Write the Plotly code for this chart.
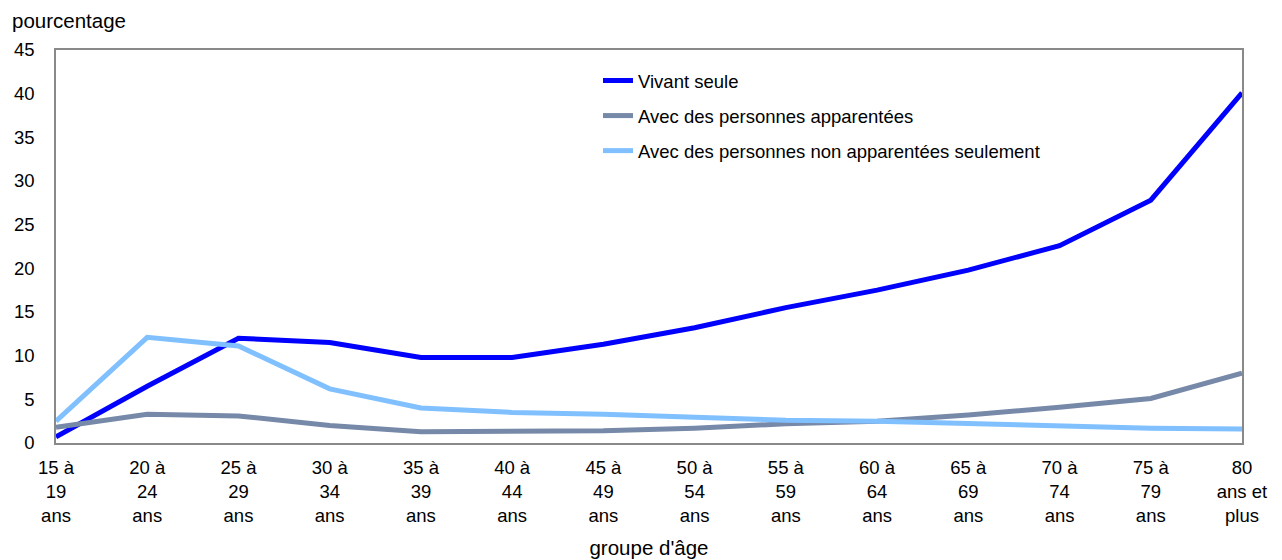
import plotly.graph_objects as go

age_groups = ["15 à 19 ans", "20 à 24 ans", "25 à 29 ans", "30 à 34 ans", "35 à 39 ans",
              "40 à 44 ans", "45 à 49 ans", "50 à 54 ans", "55 à 59 ans", "60 à 64 ans",
              "65 à 69 ans", "70 à 74 ans", "75 à 79 ans", "80 ans et plus"]
tick_labels = ["15 à<br>19<br>ans", "20 à<br>24<br>ans", "25 à<br>29<br>ans", "30 à<br>34<br>ans",
               "35 à<br>39<br>ans", "40 à<br>44<br>ans", "45 à<br>49<br>ans", "50 à<br>54<br>ans",
               "55 à<br>59<br>ans", "60 à<br>64<br>ans", "65 à<br>69<br>ans", "70 à<br>74<br>ans",
               "75 à<br>79<br>ans", "80<br>ans et<br>plus"]
y_ticks = [0, 5, 10, 15, 20, 25, 30, 35, 40, 45]

vivant_seule = [0.7, 6.5, 12.0, 11.5, 9.8, 9.8, 11.3, 13.2, 15.5, 17.5, 19.8, 22.6, 27.8, 40.1]
apparentees = [1.8, 3.3, 3.1, 2.0, 1.3, 1.3, 1.4, 1.7, 2.2, 2.5, 3.2, 4.1, 5.1, 8.0]
non_apparentees = [2.5, 12.1, 11.1, 6.2, 4.0, 3.5, 3.3, 3.0, 2.6, 2.5, 2.2, 2.0, 1.7, 1.6]

series_names = ["Vivant seule", "Avec des personnes apparentées",
                "Avec des personnes non apparentées seulement"]
series_colors = ["#0000FF", "#7789A8", "#80C0FF"]

FONT = "Liberation Sans, Arial, sans-serif"
W, H = 1282, 560
ML, MR, MT, MB = 56, 40, 50, 117
PW, PH = W - ML - MR, H - MT - MB

fig = go.Figure()
for i, (name, vals, col) in enumerate(zip(series_names,
                                          [vivant_seule, apparentees, non_apparentees],
                                          series_colors)):
    fig.add_trace(go.Scatter(x=age_groups, y=vals, mode="lines", name=name,
                             legendgroup=f"g{i}",
                             line=dict(color=col, width=5)))

fig.update_layout(
    width=W, height=H,
    margin=dict(l=ML, r=MR, t=MT, b=MB),
    paper_bgcolor="white", plot_bgcolor="white",
    font=dict(family=FONT, size=18.5, color="#000000"),
    showlegend=True,
    legend=dict(x=0.457, y=1 - 12 / PH, xanchor="left", yanchor="top",
                bgcolor="rgba(0,0,0,0)", font=dict(size=18.5),
                tracegroupgap=8),
    xaxis=dict(type="category", categoryorder="array", categoryarray=age_groups,
               range=[0, 13], tickvals=age_groups, ticktext=tick_labels,
               showgrid=False, zeroline=False, automargin=False,
               showline=True, linecolor="#898989", linewidth=1.5, mirror=True,
               ticks="outside", ticklen=7, tickcolor="rgba(0,0,0,0)",
               title=dict(text="groupe d'âge", standoff=16, font=dict(size=20.5))),
    yaxis=dict(range=[0, 45], tickvals=y_ticks,
               showgrid=False, zeroline=False, automargin=False,
               showline=True, linecolor="#898989", linewidth=1.5, mirror=True,
               ticks="outside", ticklen=16, tickcolor="rgba(0,0,0,0)"),
    annotations=[dict(text="pourcentage", xref="paper", yref="paper",
                      x=-(ML - 10) / PW, y=1.0 + (MT - 20) / PH,
                      xanchor="left", yanchor="middle", showarrow=False,
                      font=dict(size=20.5))],
)

fig.write_html("out.html", config={"displayModeBar": False},
               post_script="document.body.style.margin='0';")
